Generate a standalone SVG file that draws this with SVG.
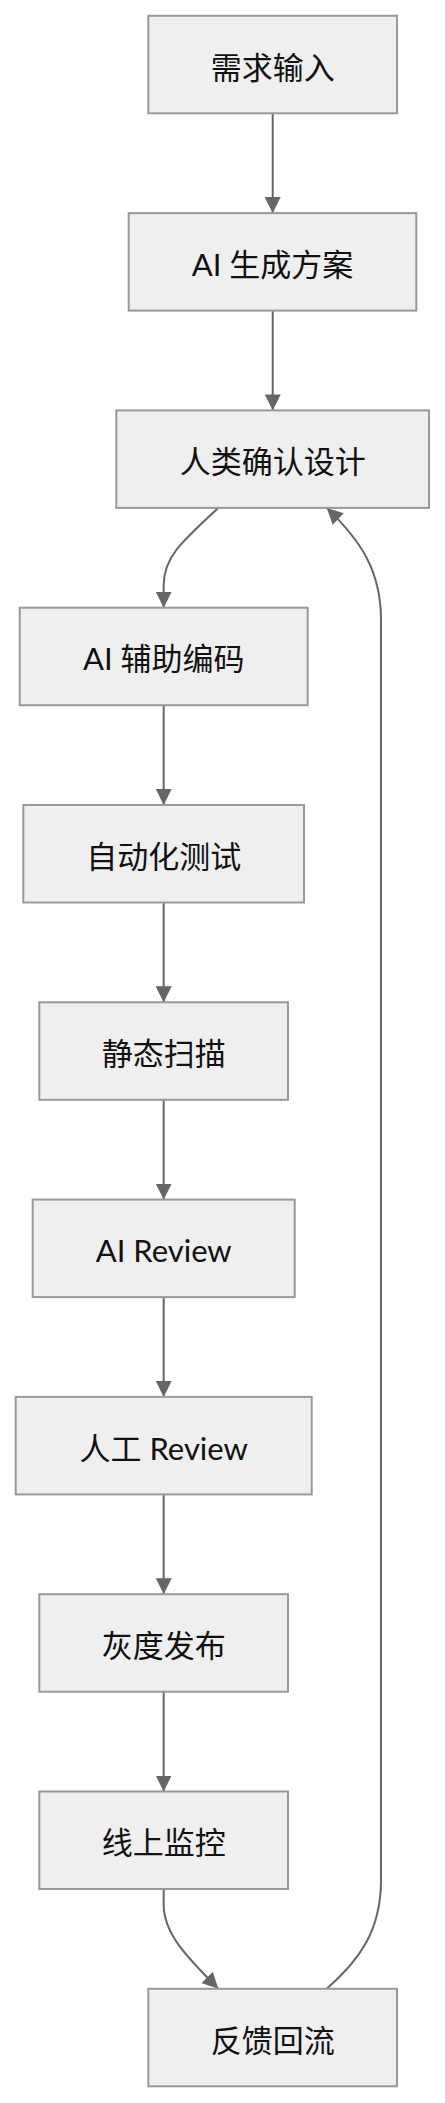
<svg xmlns="http://www.w3.org/2000/svg" width="445" height="2103" viewBox="0 0 445 2103">
<style>
.node rect{fill:#efefef;stroke:#999999;stroke-width:2}
.node text{font-family:"Lato","Noto Sans CJK SC",sans-serif;font-size:31px;fill:#111111;text-anchor:middle}
.edges path{fill:none;stroke:#666666;stroke-width:2}
</style>
<defs>
<marker id="arrow" markerUnits="userSpaceOnUse" markerWidth="16" markerHeight="16" viewBox="0 0 16 16" refX="16" refY="8" orient="auto">
<path d="M0,0 L16,8 L0,16 z" fill="#666666"/>
</marker>
</defs>
<rect width="445" height="2103" fill="#ffffff"/>
<g class="edges">
<path d="M272.7,113.3 L272.7,213.1" marker-end="url(#arrow)"/>
<path d="M272.7,310.6 L272.7,410.4" marker-end="url(#arrow)"/>
<path d="M218.3,507.9 C180,543 163.7,558 163.7,585 L163.7,607.7" marker-end="url(#arrow)"/>
<path d="M163.7,705.2 L163.7,805" marker-end="url(#arrow)"/>
<path d="M163.7,902.5 L163.7,1002.3" marker-end="url(#arrow)"/>
<path d="M163.7,1099.8 L163.7,1199.6" marker-end="url(#arrow)"/>
<path d="M163.7,1297.1 L163.7,1396.9" marker-end="url(#arrow)"/>
<path d="M163.7,1494.4 L163.7,1594.2" marker-end="url(#arrow)"/>
<path d="M163.7,1691.7 L163.7,1791.5" marker-end="url(#arrow)"/>
<path d="M163.7,1889 L163.7,1905 C163.7,1935 190,1960 218.3,1988.8" marker-end="url(#arrow)"/>
<path d="M326.7,1988.8 C360,1960 381,1930 381,1880 L381,620 C381,570 360,540 326.7,507.9" marker-end="url(#arrow)"/>
</g>
<g id="n1" class="node"><rect x="148.3" y="15.8" width="248.7" height="97.5"/><text x="272.7" y="78.5">需求输入</text></g>
<g id="n2" class="node"><rect x="128.7" y="213.1" width="287.6" height="97.5"/><text x="272.5" y="275.8">AI 生成方案</text></g>
<g id="n3" class="node"><rect x="116.3" y="410.4" width="312.7" height="97.5"/><text x="272.7" y="473.1">人类确认设计</text></g>
<g id="n4" class="node"><rect x="19.7" y="607.7" width="288" height="97.5"/><text x="163.7" y="670.4">AI 辅助编码</text></g>
<g id="n5" class="node"><rect x="23.3" y="805" width="280.7" height="97.5"/><text x="163.7" y="867.7">自动化测试</text></g>
<g id="n6" class="node"><rect x="39.3" y="1002.3" width="248.7" height="97.5"/><text x="163.7" y="1065">静态扫描</text></g>
<g id="n7" class="node"><rect x="32.7" y="1199.6" width="262" height="97.5"/><text x="163.7" y="1262.3">AI Review</text></g>
<g id="n8" class="node"><rect x="15.7" y="1396.9" width="296" height="97.5"/><text x="163.7" y="1459.6">人工 Review</text></g>
<g id="n9" class="node"><rect x="39.3" y="1594.2" width="248.7" height="97.5"/><text x="163.7" y="1656.9">灰度发布</text></g>
<g id="n10" class="node"><rect x="39.3" y="1791.5" width="248.7" height="97.5"/><text x="163.7" y="1854.2">线上监控</text></g>
<g id="n11" class="node"><rect x="148.3" y="1988.8" width="248.7" height="97.5"/><text x="272.7" y="2051.5">反馈回流</text></g>
</svg>
